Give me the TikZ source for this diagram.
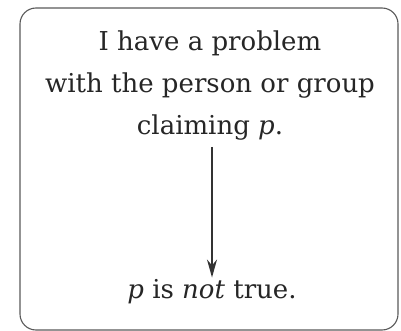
\documentclass[tikz,border=0pt]{standalone}
\usepackage{fontspec}
\setmainfont{DejaVu Serif}
\usetikzlibrary{arrows.meta}
\begin{document}
\begin{tikzpicture}[x=1pt,y=-1pt,
    frame/.style={draw=black!65,line width=1.1pt,rounded corners=16pt},
    txt/.style={text=black!85,font=\fontsize{26}{42}\selectfont,align=center,inner sep=2pt},
    link/.style={draw=black!80,line width=1.8pt,-{Stealth[length=18pt,width=10pt]}}]
            \useasboundingbox (0,0) rectangle (401,331);
            \draw[frame] (20,8) rectangle (398,330);
            \node[txt] (claim) at (210,86) {I have a problem\\with the person or group\\claiming \textit{p}.};
            \node[txt] (concl) at (212,292) {\textit{p} is \textit{not} true.};
            \draw[link] (claim.south -| concl) ++(0,4) coordinate (top) (top) -- (concl.north);
        \end{tikzpicture}
\end{document}
